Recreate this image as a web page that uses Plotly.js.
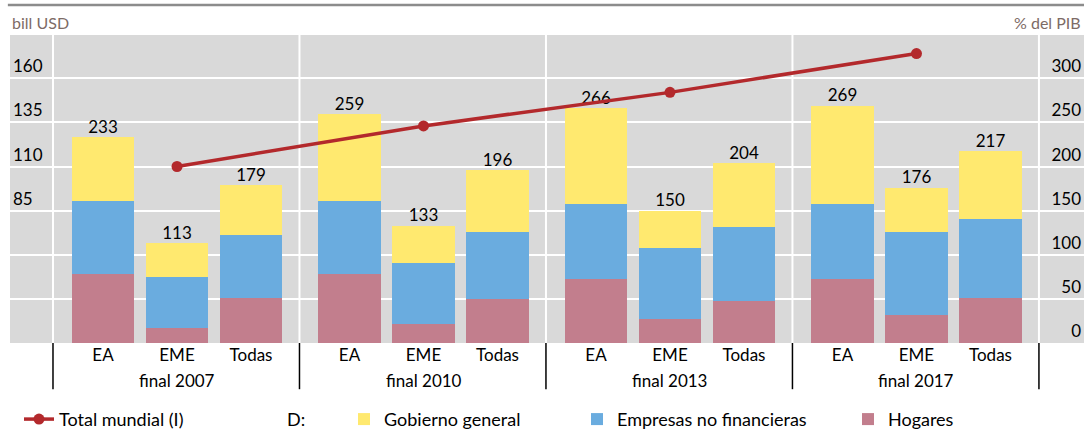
<!DOCTYPE html>
<html>
<head>
<meta charset="utf-8">
<script src="https://cdn.plot.ly/plotly-3.0.1.min.js"></script>
<style>
  html, body { margin: 0; padding: 0; background: #ffffff; }
  #chart { width: 1084px; height: 434px; }
</style>
</head>
<body>
<div id="chart"></div>
<script>
// ---- Data ----
const groups = ['final 2007', 'final 2010', 'final 2013', 'final 2017'];
const categories = ['EA', 'EME', 'Todas'];
// % del PIB (right axis), order: EA, EME, Todas for each group
const hogares   = [78, 17, 51,  78, 21, 50,  73, 27, 48,  72, 32, 51];
const empresas  = [83, 58, 71,  83, 70, 76,  85, 81, 83,  86, 94, 89];
const gobierno  = [72, 38, 57,  98, 42, 70, 108, 42, 73, 111, 50, 77];
const totales   = [233, 113, 179, 259, 133, 196, 266, 150, 204, 269, 176, 217];
// bill USD (left axis), one per group
const totalMundial = [110, 133, 152, 174];
const rightTicks = [0, 50, 100, 150, 200, 250, 300];
const leftTicks = [85, 110, 135, 160];

// ---- Layout helpers ----
const FONT = 'Lato, "Open Sans", sans-serif';
const GROUP_W = 3.331;      // width of a group in category units
const GROUP_OFF = 0.676;    // distance from group start to first bar centre
const xs = [], ticktext = [];
groups.forEach((g, gi) => categories.forEach((c, ci) => {
  xs.push(gi * GROUP_W + ci);
  ticktext.push(c);
}));
const groupCentres = groups.map((g, gi) => gi * GROUP_W + 1);
const separators = [0, 1, 2, 3, 4].map(i => i * GROUP_W - GROUP_OFF);

const colors = {
  gob: '#FFE96F',
  emp: '#6AACDF',
  hog: '#C27E8D',
  line: '#B3292C',
  bg: '#D9D9D9'
};

const traces = [
  { type: 'bar', name: 'Hogares', x: xs, y: hogares, width: 0.85,
    marker: { color: colors.hog }, yaxis: 'y', legend: 'legend4', hoverinfo: 'y+name' },
  { type: 'bar', name: 'Empresas no financieras', x: xs, y: empresas, width: 0.85,
    marker: { color: colors.emp }, yaxis: 'y', legend: 'legend3', hoverinfo: 'y+name' },
  { type: 'bar', name: 'Gobierno general', x: xs, y: gobierno, width: 0.85,
    marker: { color: colors.gob }, yaxis: 'y', legend: 'legend2', hoverinfo: 'y+name' },
  { type: 'scatter', mode: 'text', x: xs, y: totales, text: totales.map(String),
    textposition: 'top center', textfont: { family: FONT, size: 17, color: '#000' },
    yaxis: 'y', showlegend: false, cliponaxis: false, hoverinfo: 'skip' },
  { type: 'scatter', mode: 'lines+markers', name: 'Total mundial (I)',
    x: groupCentres, y: totalMundial, yaxis: 'y2', legend: 'legend',
    line: { color: colors.line, width: 3.5 },
    marker: { color: colors.line, size: 11 } }
];

const shapes = [];
separators.forEach(s => {
  shapes.push({ type: 'line', xref: 'x', yref: 'paper', x0: s, x1: s, y0: 0, y1: 1,
    line: { color: '#ffffff', width: 2 }, layer: 'below' });
  shapes.push({ type: 'line', xref: 'x', yref: 'paper', x0: s, x1: s, y0: 0, y1: -0.15,
    line: { color: '#000000', width: 1.5 } });
});
shapes.push({ type: 'line', xref: 'paper', yref: 'paper', x0: -0.002, x1: 1, y0: 1.097, y1: 1.097,
  line: { color: '#8c8c8c', width: 2.5 } });

const LEGEND_Y = -0.248;
const annotations = groups.map((g, gi) => ({
  text: g, xref: 'x', yref: 'paper', x: groupCentres[gi], y: -0.123,
  xanchor: 'center', yanchor: 'middle', showarrow: false,
  font: { family: FONT, size: 17, color: '#000' }
}));
annotations.push({ text: 'bill USD', xref: 'paper', yref: 'paper', x: 0, y: 1.039,
  xanchor: 'left', yanchor: 'middle', showarrow: false,
  font: { family: FONT, size: 16, color: '#7d6b66' } });
annotations.push({ text: '% del PIB', xref: 'paper', yref: 'paper', x: 0.999, y: 1.039,
  xanchor: 'right', yanchor: 'middle', showarrow: false,
  font: { family: FONT, size: 16, color: '#7d6b66' } });
annotations.push({ text: 'D:', xref: 'paper', yref: 'paper', x: (296 - 10) / 1074, y: LEGEND_Y,
  xanchor: 'center', yanchor: 'middle', showarrow: false,
  font: { family: FONT, size: 18, color: '#000' } });

const legendBase = (px) => ({
  x: (px - 10) / 1074, xanchor: 'left', y: LEGEND_Y, yanchor: 'middle',
  orientation: 'h', bgcolor: 'rgba(0,0,0,0)', borderwidth: 0,
  font: { family: FONT, size: 18, color: '#000' }
});

const layout = {
  width: 1084, height: 434,
  margin: { l: 10, r: 0, t: 35, b: 91, pad: 0, autoexpand: false },
  paper_bgcolor: '#ffffff',
  plot_bgcolor: colors.bg,
  barmode: 'stack',
  bargap: 0,
  font: { family: FONT, size: 17, color: '#000' },
  xaxis: {
    range: [-1.257, 13.257], tickmode: 'array', tickvals: xs, ticktext: ticktext,
    showgrid: false, zeroline: false, showline: false, ticks: '',
    tickfont: { family: FONT, size: 17, color: '#000' }, fixedrange: true, automargin: false
  },
  yaxis: {
    side: 'right', range: [0, 349], tickmode: 'array', tickvals: rightTicks,
    showgrid: true, gridcolor: '#ffffff', gridwidth: 2, zeroline: false, showline: false,
    ticks: '', ticklabelposition: 'inside top',
    tickfont: { family: FONT, size: 17, color: '#000' }, fixedrange: true, automargin: false
  },
  yaxis2: {
    overlaying: 'y', side: 'left', range: [10, 10 + 349 / 2], tickmode: 'array', tickvals: leftTicks,
    showgrid: false, zeroline: false, showline: false, ticks: '', ticklabelposition: 'inside top',
    tickfont: { family: FONT, size: 17, color: '#000' }, fixedrange: true, automargin: false
  },
  legend: legendBase(19),
  legend2: legendBase(344),
  legend3: legendBase(577),
  legend4: legendBase(848),
  shapes: shapes,
  annotations: annotations
};

Plotly.newPlot('chart', traces, layout, { displayModeBar: false, staticPlot: true });
</script>
</body>
</html>
